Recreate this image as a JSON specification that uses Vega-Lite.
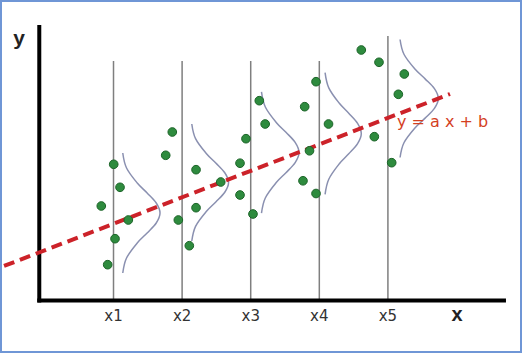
{
  "$schema": "https://vega.github.io/schema/vega-lite/v6.json",
  "width": 520,
  "height": 351,
  "autosize": {"type": "none"},
  "padding": {"left": 1, "top": 1, "right": 3, "bottom": 4},
  "background": "white",
  "config": {"view": {"stroke": "#6f96d6", "strokeWidth": 2}},
  "datasets": {
    "axes": [
      {"x": -0.082, "x2": -0.082, "y": 92, "y2": -0.5},
      {"x": -0.111, "x2": 6.721, "y": 0.2, "y2": 0.2}
    ],
    "grid": [
      {"x": 1, "top": 80, "bottom": 0.2},
      {"x": 2, "top": 80, "bottom": 0.2},
      {"x": 3, "top": 80, "bottom": 0.2},
      {"x": 4, "top": 80, "bottom": 0.2},
      {"x": 5, "top": 88.3, "bottom": 0.2}
    ],
    "ticks": [
      {"x": 1, "y": -6.6, "label": "x1"},
      {"x": 2, "y": -6.6, "label": "x2"},
      {"x": 3, "y": -6.6, "label": "x3"},
      {"x": 4, "y": -6.6, "label": "x4"},
      {"x": 5, "y": -6.6, "label": "x5"}
    ],
    "curves": [
      {"c": "x1", "i": 0, "x": 1.135, "y": 49.33},
      {"c": "x1", "i": 1, "x": 1.19, "y": 44.33},
      {"c": "x1", "i": 2, "x": 1.346, "y": 39.33},
      {"c": "x1", "i": 3, "x": 1.49, "y": 36.0},
      {"c": "x1", "i": 4, "x": 1.623, "y": 32.67},
      {"c": "x1", "i": 5, "x": 1.678, "y": 29.33},
      {"c": "x1", "i": 6, "x": 1.623, "y": 26.0},
      {"c": "x1", "i": 7, "x": 1.49, "y": 22.67},
      {"c": "x1", "i": 8, "x": 1.346, "y": 19.33},
      {"c": "x1", "i": 9, "x": 1.19, "y": 14.33},
      {"c": "x1", "i": 10, "x": 1.135, "y": 9.33},
      {"c": "x2", "i": 0, "x": 2.141, "y": 59.0},
      {"c": "x2", "i": 1, "x": 2.196, "y": 54.1},
      {"c": "x2", "i": 2, "x": 2.349, "y": 49.25},
      {"c": "x2", "i": 3, "x": 2.491, "y": 46.0},
      {"c": "x2", "i": 4, "x": 2.622, "y": 42.75},
      {"c": "x2", "i": 5, "x": 2.677, "y": 39.5},
      {"c": "x2", "i": 6, "x": 2.622, "y": 36.25},
      {"c": "x2", "i": 7, "x": 2.491, "y": 33.0},
      {"c": "x2", "i": 8, "x": 2.349, "y": 29.75},
      {"c": "x2", "i": 9, "x": 2.196, "y": 24.9},
      {"c": "x2", "i": 10, "x": 2.141, "y": 20.0},
      {"c": "x3", "i": 0, "x": 3.157, "y": 69.7},
      {"c": "x3", "i": 1, "x": 3.213, "y": 64.65},
      {"c": "x3", "i": 2, "x": 3.369, "y": 59.6},
      {"c": "x3", "i": 3, "x": 3.514, "y": 56.23},
      {"c": "x3", "i": 4, "x": 3.648, "y": 52.87},
      {"c": "x3", "i": 5, "x": 3.704, "y": 49.5},
      {"c": "x3", "i": 6, "x": 3.648, "y": 46.13},
      {"c": "x3", "i": 7, "x": 3.514, "y": 42.77},
      {"c": "x3", "i": 8, "x": 3.369, "y": 39.4},
      {"c": "x3", "i": 9, "x": 3.213, "y": 34.35},
      {"c": "x3", "i": 10, "x": 3.157, "y": 29.3},
      {"c": "x4", "i": 0, "x": 4.084, "y": 76.13},
      {"c": "x4", "i": 1, "x": 4.138, "y": 71.06},
      {"c": "x4", "i": 2, "x": 4.289, "y": 65.98},
      {"c": "x4", "i": 3, "x": 4.429, "y": 62.6},
      {"c": "x4", "i": 4, "x": 4.558, "y": 59.21},
      {"c": "x4", "i": 5, "x": 4.612, "y": 55.83},
      {"c": "x4", "i": 6, "x": 4.558, "y": 52.45},
      {"c": "x4", "i": 7, "x": 4.429, "y": 49.06},
      {"c": "x4", "i": 8, "x": 4.289, "y": 45.68},
      {"c": "x4", "i": 9, "x": 4.138, "y": 40.6},
      {"c": "x4", "i": 10, "x": 4.084, "y": 35.53},
      {"c": "x5", "i": 0, "x": 5.177, "y": 87.17},
      {"c": "x5", "i": 1, "x": 5.234, "y": 82.25},
      {"c": "x5", "i": 2, "x": 5.394, "y": 77.33},
      {"c": "x5", "i": 3, "x": 5.542, "y": 74.05},
      {"c": "x5", "i": 4, "x": 5.678, "y": 70.78},
      {"c": "x5", "i": 5, "x": 5.735, "y": 67.5},
      {"c": "x5", "i": 6, "x": 5.678, "y": 64.22},
      {"c": "x5", "i": 7, "x": 5.542, "y": 60.95},
      {"c": "x5", "i": 8, "x": 5.394, "y": 57.67},
      {"c": "x5", "i": 9, "x": 5.234, "y": 52.75},
      {"c": "x5", "i": 10, "x": 5.177, "y": 47.83}
    ],
    "fit": [
      {"x": -0.596, "y": 11.67},
      {"x": 5.905, "y": 69.0}
    ],
    "dots": [
      {"x": 1.003, "y": 45.57},
      {"x": 1.095, "y": 37.9},
      {"x": 0.822, "y": 31.67},
      {"x": 1.216, "y": 27.0},
      {"x": 1.022, "y": 20.77},
      {"x": 0.915, "y": 12.1},
      {"x": 1.857, "y": 56.33},
      {"x": 1.761, "y": 48.57},
      {"x": 2.203, "y": 43.77},
      {"x": 2.563, "y": 39.67},
      {"x": 2.203, "y": 31.1},
      {"x": 1.945, "y": 27.0},
      {"x": 2.105, "y": 18.43},
      {"x": 3.125, "y": 66.77},
      {"x": 3.211, "y": 59.0},
      {"x": 2.931, "y": 54.1},
      {"x": 2.844, "y": 45.93},
      {"x": 2.844, "y": 35.33},
      {"x": 3.033, "y": 29.0},
      {"x": 3.952, "y": 73.1},
      {"x": 3.787, "y": 64.77},
      {"x": 4.134, "y": 59.0},
      {"x": 3.857, "y": 50.07},
      {"x": 3.762, "y": 40.07},
      {"x": 3.952, "y": 35.83},
      {"x": 4.612, "y": 83.67},
      {"x": 4.87, "y": 79.57},
      {"x": 5.239, "y": 75.67},
      {"x": 5.152, "y": 68.9},
      {"x": 4.802, "y": 54.77},
      {"x": 5.055, "y": 46.1}
    ],
    "eq": [{"x": 5.133, "y": 58.1, "label": "y = a x + b"}],
    "ylab": [{"x": -0.378, "y": 85.5, "label": "y"}],
    "xlab": [{"x": 6.007, "y": -6.77, "label": "x"}]
  },
  "layer": [
    {
      "data": {"name": "grid"},
      "mark": {"type": "rule", "color": "#7f7f7f", "strokeWidth": 1.5},
      "encoding": {
        "x": {"field": "x", "type": "quantitative", "scale": {"domain": [-0.64, 6.94], "nice": false, "zero": false}, "axis": null},
        "y": {"field": "top", "type": "quantitative", "scale": {"domain": [-17, 100], "nice": false, "zero": false}, "axis": null},
        "y2": {"field": "bottom"}
      }
    },
    {
      "data": {"name": "axes"},
      "mark": {"type": "rule", "color": "#000000", "strokeWidth": 4},
      "encoding": {
        "x": {"field": "x", "type": "quantitative", "scale": {"domain": [-0.64, 6.94], "nice": false, "zero": false}, "axis": null},
        "x2": {"field": "x2"},
        "y": {"field": "y", "type": "quantitative", "scale": {"domain": [-17, 100], "nice": false, "zero": false}, "axis": null},
        "y2": {"field": "y2"}
      }
    },
    {
      "data": {"name": "curves"},
      "mark": {"type": "line", "color": "#8a90b0", "strokeWidth": 1.5, "interpolate": "cardinal"},
      "encoding": {
        "x": {"field": "x", "type": "quantitative", "scale": {"domain": [-0.64, 6.94], "nice": false, "zero": false}, "axis": null},
        "y": {"field": "y", "type": "quantitative", "scale": {"domain": [-17, 100], "nice": false, "zero": false}, "axis": null},
        "detail": {"field": "c", "type": "nominal"},
        "order": {"field": "i", "type": "quantitative"}
      }
    },
    {
      "data": {"name": "fit"},
      "mark": {"type": "line", "color": "#cc2229", "strokeWidth": 4, "strokeDash": [11, 6], "strokeCap": "butt"},
      "encoding": {
        "x": {"field": "x", "type": "quantitative", "scale": {"domain": [-0.64, 6.94], "nice": false, "zero": false}, "axis": null},
        "y": {"field": "y", "type": "quantitative", "scale": {"domain": [-17, 100], "nice": false, "zero": false}, "axis": null}
      }
    },
    {
      "data": {"name": "dots"},
      "mark": {"type": "circle", "size": 75, "color": "#2e8b3e", "opacity": 1, "stroke": "#1c6428", "strokeWidth": 1},
      "encoding": {
        "x": {"field": "x", "type": "quantitative", "scale": {"domain": [-0.64, 6.94], "nice": false, "zero": false}, "axis": null},
        "y": {"field": "y", "type": "quantitative", "scale": {"domain": [-17, 100], "nice": false, "zero": false}, "axis": null}
      }
    },
    {
      "data": {"name": "ticks"},
      "mark": {"type": "text", "font": "DejaVu Sans", "fontSize": 15, "color": "#333333", "align": "center", "baseline": "alphabetic"},
      "encoding": {
        "x": {"field": "x", "type": "quantitative", "scale": {"domain": [-0.64, 6.94], "nice": false, "zero": false}, "axis": null},
        "y": {"field": "y", "type": "quantitative", "scale": {"domain": [-17, 100], "nice": false, "zero": false}, "axis": null},
        "text": {"field": "label"}
      }
    },
    {
      "data": {"name": "eq"},
      "mark": {"type": "text", "font": "DejaVu Sans", "fontSize": 16, "color": "#d43f1f", "align": "left", "baseline": "alphabetic"},
      "encoding": {
        "x": {"field": "x", "type": "quantitative", "scale": {"domain": [-0.64, 6.94], "nice": false, "zero": false}, "axis": null},
        "y": {"field": "y", "type": "quantitative", "scale": {"domain": [-17, 100], "nice": false, "zero": false}, "axis": null},
        "text": {"field": "label"}
      }
    },
    {
      "data": {"name": "ylab"},
      "mark": {"type": "text", "font": "Liberation Sans", "fontSize": 21, "fontWeight": "bold", "color": "#222222", "align": "center", "baseline": "alphabetic"},
      "encoding": {
        "x": {"field": "x", "type": "quantitative", "scale": {"domain": [-0.64, 6.94], "nice": false, "zero": false}, "axis": null},
        "y": {"field": "y", "type": "quantitative", "scale": {"domain": [-17, 100], "nice": false, "zero": false}, "axis": null},
        "text": {"field": "label"}
      }
    },
    {
      "data": {"name": "xlab"},
      "mark": {"type": "text", "font": "Liberation Sans", "fontSize": 20, "fontWeight": "bold", "color": "#222222", "align": "center", "baseline": "alphabetic"},
      "encoding": {
        "x": {"field": "x", "type": "quantitative", "scale": {"domain": [-0.64, 6.94], "nice": false, "zero": false}, "axis": null},
        "y": {"field": "y", "type": "quantitative", "scale": {"domain": [-17, 100], "nice": false, "zero": false}, "axis": null},
        "text": {"field": "label"}
      }
    }
  ]
}
